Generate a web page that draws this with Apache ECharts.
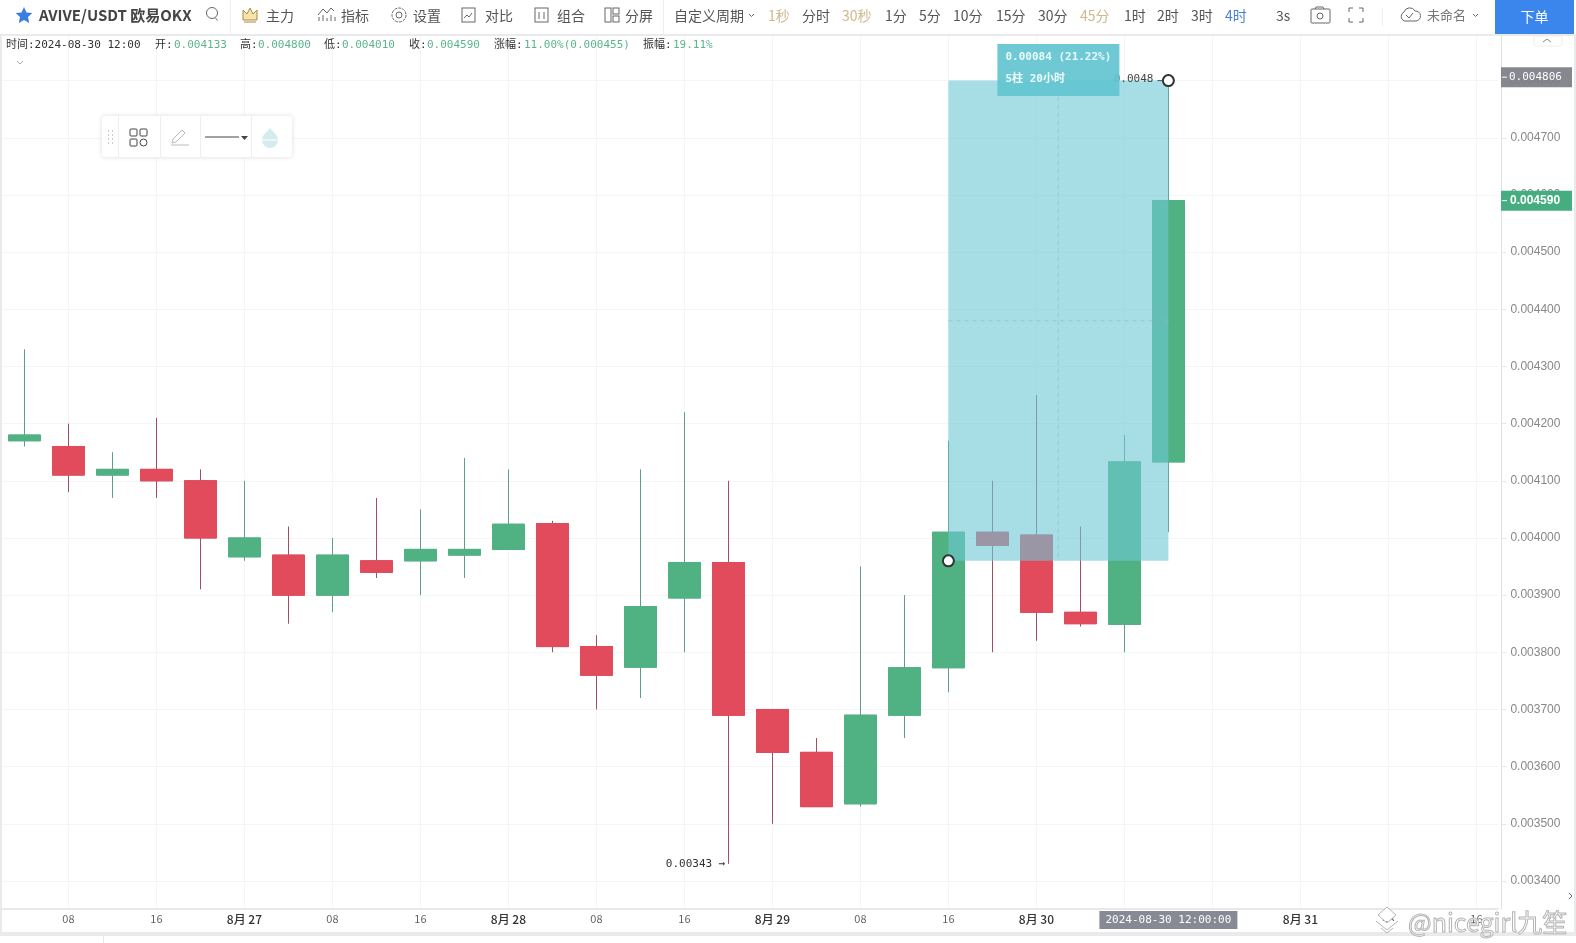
<!DOCTYPE html>
<html>
<head>
<meta charset="utf-8">
<title>AVIVE/USDT</title>
<script src="https://cdn.jsdelivr.net/npm/echarts@6/dist/echarts.min.js"></script>
<style>
  html, body { margin: 0; padding: 0; background: #fff; overflow: hidden; }
  #wrap { position: relative; width: 1576px; height: 943px; overflow: hidden; }
  #chart { position: absolute; left: 0; top: 0; width: 1576px; height: 943px; }
  .abs { position: absolute; white-space: nowrap; }
  .tb { top: 0; height: 34px; line-height: 30px; font: 14px/30px "Noto Sans CJK SC", sans-serif; color: #555; }
  .info { top: 38px; font: 11px/14px "DejaVu Sans Mono", "Noto Sans CJK SC", monospace; color: #333; }
  .bar { background: #e9eaeb; }
  svg { position: absolute; overflow: visible; }
</style>
</head>
<body>
<div id="wrap">
  <div id="chart"></div>
  <div id="overlay"></div>
</div>
<script>
// 4h candles, 08-26 04:00 to 08-30 12:00
var opens  = [0.00417, 0.00416, 0.00411, 0.00412, 0.00410, 0.003967, 0.00397, 0.00390, 0.00396, 0.00396, 0.00397, 0.00398, 0.004025, 0.00381, 0.003774, 0.003895, 0.003957, 0.00370, 0.003625, 0.003535, 0.00369, 0.003773, 0.00401, 0.004005, 0.00387, 0.003849, 0.004133];
var closes = [0.00418, 0.00411, 0.00412, 0.00410, 0.00400, 0.00400, 0.00390, 0.00397, 0.00394, 0.00398, 0.00398, 0.004024, 0.00381, 0.00376, 0.00388, 0.003957, 0.00369, 0.003625, 0.00353, 0.00369, 0.003773, 0.00401, 0.003987, 0.00387, 0.00385, 0.004133, 0.00459];
var lows   = [0.00416, 0.00408, 0.00407, 0.00407, 0.00391, 0.00396, 0.00385, 0.00387, 0.00393, 0.00390, 0.00393, 0.00398, 0.00380, 0.00370, 0.00372, 0.00380, 0.00343, 0.00350, 0.00353, 0.00353, 0.00365, 0.00373, 0.00380, 0.00382, 0.003845, 0.00380, 0.00401];
var highs  = [0.00433, 0.00420, 0.00415, 0.00421, 0.00412, 0.00410, 0.00402, 0.00400, 0.00407, 0.00405, 0.00414, 0.00412, 0.00403, 0.00383, 0.00412, 0.00422, 0.00410, 0.00370, 0.00365, 0.00395, 0.00390, 0.00417, 0.00410, 0.00425, 0.00402, 0.00418, 0.00480];

var tickLabels = ['', '08', '', '16', '', '8月 27', '', '08', '', '16', '', '8月 28', '', '08', '', '16', '', '8月 29', '', '08', '', '16', '', '8月 30', '', '16', '', '', '', '8月 31', '', '08', '', '16'];
var priceTicks = [0.0034, 0.0035, 0.0036, 0.0037, 0.0038, 0.0039, 0.0040, 0.0041, 0.0042, 0.0043, 0.0044, 0.0045, 0.0046, 0.0047, 0.0048];

var lastClose = 0.00459;
var crossPrice = 0.004806;
var crossTime = '2024-08-30 12:00:00';
var lowIndex = 16, lowPrice = 0.00343, lowText = '0.00343 →';
var highIndex = 26, highPrice = 0.0048, highText = '0.0048';
var measureFrom = [21, 0.00396];
var measureTo = [26, 0.0048];
var measureText = ['0.00084 (21.22%)', '5柱 20小时'];

var GREEN = '#50b283', RED = '#e24b5c';
var GREEN_WICK = '#5f9e8a', RED_WICK = '#a34f62';
var MONO = '"DejaVu Sans Mono","Noto Sans CJK SC",monospace';
var AXIS_X = 1501;

var candles = opens.map(function (o, i) { return [o, closes[i], lows[i], highs[i]]; });
// same open/close with the wicks collapsed, so the bodies keep their own colour over the wicks
var bodies = opens.map(function (o, i) {
    return [o, closes[i], Math.min(o, closes[i]), Math.max(o, closes[i])];
});

function renderNotes(params, api) {
    var a = api.coord([api.value(0), api.value(1)]);
    var b = api.coord([api.value(2), api.value(3)]);
    var midX = (a[0] + b[0]) / 2, midY = (a[1] + b[1]) / 2;
    var lo = api.coord([lowIndex, lowPrice]);
    var hi = api.coord([highIndex, highPrice]);
    var lastY = api.coord([0, lastClose])[1];
    var crossY = api.coord([0, crossPrice])[1];
    var dash = { stroke: 'rgba(130,185,195,.5)', lineWidth: 1, lineDash: [4, 4] };

    function txt(x, y, s, fill, align, font) {
        return { type: 'text', style: { x: x, y: y, text: s, fill: fill, align: align || 'left', verticalAlign: 'middle', font: font || '11px ' + MONO } };
    }
    function box(x, y, w, h, fill) {
        return { type: 'rect', shape: { x: x, y: y, width: w, height: h }, style: { fill: fill } };
    }
    function seg(x1, y1, x2, y2, st) {
        return { type: 'line', shape: { x1: x1, y1: y1, x2: x2, y2: y2 }, style: st };
    }
    function handle(p) {
        return { type: 'circle', shape: { cx: p[0], cy: p[1], r: 5.5 }, style: { fill: '#fff', stroke: '#2f3237', lineWidth: 2 } };
    }

    return { type: 'group', children: [
        box(a[0], b[1], b[0] - a[0], a[1] - b[1], 'rgba(109,200,214,.6)'),
        seg(midX, b[1], midX, a[1], dash),
        seg(a[0], midY, b[0], midY, dash),
        seg(b[0] - 5, midY - 3, b[0], midY, { stroke: 'rgba(130,185,195,.8)', lineWidth: 1 }),
        seg(b[0] - 5, midY + 3, b[0], midY, { stroke: 'rgba(130,185,195,.8)', lineWidth: 1 }),
        txt(lo[0] - 3, lo[1], lowText, '#333', 'right'),
        txt(hi[0] - 15, hi[1] - 1, highText, '#444', 'right'),
        seg(hi[0] - 11, hi[1], hi[0] - 5, hi[1], { stroke: '#555', lineWidth: 1 }),
        box(midX - 61, 44, 122, 52, 'rgba(98,196,209,.92)'),
        txt(midX - 53, 57, measureText[0], '#eafafa', 'left', 'bold 11px ' + MONO),
        txt(midX - 53, 79, measureText[1], '#f2fcfc', 'left', 'bold 11px ' + MONO),
        handle(a),
        handle(b),
        box(AXIS_X, crossY - 10, 71, 20, 'rgba(125,126,134,.93)'),
        seg(AXIS_X + 1, crossY, AXIS_X + 6, crossY, { stroke: '#fff', lineWidth: 1 }),
        txt(AXIS_X + 8, crossY, crossPrice.toFixed(6), '#fff'),
        box(AXIS_X, lastY - 10, 71, 20, '#46ad80'),
        seg(AXIS_X + 1, lastY, AXIS_X + 6, lastY, { stroke: '#fff', lineWidth: 1 }),
        txt(AXIS_X + 9, lastY, lastClose.toFixed(6), '#fff', 'left', 'bold 12px "Liberation Sans",sans-serif'),
        box(hi[0] - 69, 911, 138, 18, '#878a94'),
        txt(hi[0], 920, crossTime, '#fff', 'center')
    ] };
}

var chart = echarts.init(document.getElementById('chart'), null, { renderer: 'canvas' });
chart.setOption({
    animation: false,
    backgroundColor: '#fff',
    grid: { left: 2.4, top: 36, width: 1496, height: 873, containLabel: false },
    xAxis: {
        type: 'category',
        data: tickLabels,
        axisLine: { lineStyle: { color: '#dfe1e3', width: 1.5 } },
        axisTick: { show: false },
        splitLine: { show: true, alignWithLabel: true, interval: function (i) { return i % 2 === 1; }, lineStyle: { color: '#f3f5f6', width: 1 } },
        axisLabel: {
            interval: 0, margin: 4,
            formatter: function (v) { return v.indexOf('月') > 0 ? '{day|' + v + '}' : '{hour|' + v + '}'; },
            rich: {
                day: { fontFamily: '"Noto Sans CJK SC"', fontSize: 12, fontWeight: 500, color: '#333' },
                hour: { fontFamily: '"Noto Sans CJK SC"', fontSize: 11, color: '#666' }
            }
        }
    },
    yAxis: {
        type: 'value',
        position: 'right',
        offset: 3,
        min: 0.003351,
        max: 0.004878,
        axisLine: { show: true, lineStyle: { color: '#dfe1e3', width: 1 } },
        axisTick: { show: true, length: 5, customValues: priceTicks, lineStyle: { color: '#e4e6e8' } },
        splitLine: { show: true, lineStyle: { color: '#f3f5f6', width: 1 } },
        axisLabel: {
            customValues: priceTicks, margin: 9,
            fontFamily: '"Liberation Sans"', fontSize: 12, color: '#878787',
            formatter: function (v) { return v.toFixed(6); }
        }
    },
    series: [{
        type: 'candlestick',
        data: candles,
        barWidth: 32,
        itemStyle: { color: GREEN, color0: RED, borderColor: GREEN_WICK, borderColor0: RED_WICK, borderWidth: 1 },
        markLine: {
            silent: true, symbol: 'none', label: { show: false }, animation: false,
            lineStyle: { color: '#4c9f85', type: [4, 6], width: 1 },
            data: [{ yAxis: lastClose }]
        }
    }, {
        type: 'candlestick',
        data: bodies,
        barWidth: 32,
        z: 3,
        itemStyle: { color: GREEN, color0: RED, borderColor: GREEN, borderColor0: RED, borderWidth: 1 }
    }, {
        type: 'custom',
        z: 10,
        silent: true,
        clip: false,
        renderItem: renderNotes,
        encode: { x: [0, 2], y: [1, 3] },
        data: [[measureFrom[0], measureFrom[1], measureTo[0], measureTo[1]]]
    }]
});

// page furniture around the chart
var toolbarItems = [
    ['主力', 266], ['指标', 341], ['设置', 413], ['对比', 485], ['组合', 557], ['分屏', 625],
    ['自定义周期', 674], ['1秒', 768, '#cdb98c'], ['分时', 802], ['30秒', 842, '#cdb98c'],
    ['1分', 885], ['5分', 919], ['10分', 953], ['15分', 996], ['30分', 1038], ['45分', 1080, '#cdb98c'],
    ['1时', 1124], ['2时', 1157], ['3时', 1191], ['4时', 1225, '#4a80cf'], ['3s', 1276]
];
var infoRow = [
    ['时间:2024-08-30 12:00', 6], ['开:', 155], ['0.004133', 174, 1], ['高:', 240], ['0.004800', 258, 1],
    ['低:', 324], ['0.004010', 342, 1], ['收:', 409], ['0.004590', 427, 1], ['涨幅:', 494],
    ['11.00%(0.000455)', 524, 1], ['振幅:', 643], ['19.11%', 673, 1]
];
var html = '';
html += '<div class="abs bar" style="left:0;top:34px;width:1576px;height:2px"></div>';
html += '<div class="abs bar" style="left:0;top:36px;width:2px;height:896px"></div>';
html += '<div class="abs bar" style="left:1574px;top:36px;width:2px;height:896px"></div>';
html += '<div class="abs bar" style="left:0;top:932px;width:1576px;height:4px"></div>';
html += '<div class="abs bar" style="left:103px;top:936px;width:1px;height:7px"></div>';
html += '<div class="abs" style="left:230px;top:0;width:1px;height:34px;background:#eee"></div>';
html += '<div class="abs" style="left:663px;top:0;width:1px;height:34px;background:#eee"></div>';
html += '<div class="abs" style="left:1382px;top:8px;width:1px;height:18px;background:#eee"></div>';
html += '<div class="abs tb" style="left:39px;font-size:15px;font-weight:700;color:#444">AVIVE/USDT 欧易OKX</div>';
toolbarItems.forEach(function (t) {
    html += '<div class="abs tb" style="left:' + t[1] + 'px;' + (t[2] ? 'color:' + t[2] : '') + '">' + t[0] + '</div>';
});
html += '<div class="abs tb" style="left:1427px;font-size:13px;color:#777">未命名</div>';
html += '<div class="abs" style="left:1495px;top:0;width:79px;height:34px;background:#3a86ec;color:#fff;text-align:center;font:14px/32px \'Noto Sans CJK SC\'">下单</div>';
infoRow.forEach(function (t) {
    html += '<div class="abs info" style="left:' + t[1] + 'px;' + (t[2] ? 'color:#5bb58c' : '') + '">' + t[0] + '</div>';
});
// floating drawing tool
html += '<div class="abs" style="left:102px;top:116px;width:190px;height:41px;background:#fff;border-radius:3px;box-shadow:0 0 5px rgba(0,0,0,.14)"></div>';
[118, 160, 200, 251].forEach(function (x) {
    html += '<div class="abs" style="left:' + x + 'px;top:116px;width:1px;height:41px;background:#eee"></div>';
});
html += '<div class="abs" style="left:1408px;top:906px;font:25px/30px \'Noto Sans CJK SC\';color:#fff;-webkit-text-stroke:1px #b4b4b4">@nicegirl九笙</div>';
html += '<svg width="1576" height="943" style="left:0;top:0" fill="none" stroke="#666" stroke-width="1">'
    + '<path d="M24 7l2.5 5.4 5.8.7-4.3 4 1.2 5.9-5.2-3-5.2 3 1.2-5.9-4.3-4 5.8-.7z" fill="#3a7fe0" stroke="none"/>'
    + '<circle cx="212" cy="13" r="5.5"/><path d="M215.500 18l2 2.500"/>'
    + '<path d="M243 10l4 4 3-6 3 6 4-4v10h-14z" fill="#f6e3b0" stroke="#a98b3c"/><path d="M244 22h12" stroke="#a98b3c"/>'
    + '<path d="M319 21v-4M323 21v-6M327 21v-3M331 21v-6M335 21v-4M318 15l5-6 4 4 4-5 3 3"/>'
    + '<circle cx="399" cy="15" r="3"/><circle cx="399" cy="15" r="7" stroke-dasharray="3 1"/>'
    + '<rect x="462" y="8" width="13" height="14"/><path d="M464 18l3-3 2 2 3-4"/>'
    + '<rect x="535" y="8" width="13" height="14"/><path d="M539 12v7M544 12v7"/>'
    + '<rect x="605" y="8" width="6" height="14"/><rect x="613" y="8" width="6" height="6"/><rect x="613" y="16" width="6" height="6"/>'
    + '<path d="M749 14l2.5 2.5 2.5-2.5"/>'
    + '<rect x="1311" y="9" width="19" height="14" rx="1"/><circle cx="1320" cy="16" r="3"/><path d="M1315 9l1-2h7l1 2"/>'
    + '<path d="M1349 12v-4h4M1363 12v-4h-4M1349 18v4h4M1363 18v4h-4"/>'
    + '<path d="M1404 21a5 5 0 0 1 0-9 6 6 0 0 1 11-1 5 5 0 0 1 1 10z"/><path d="M1406 15l3 3 4-5"/>'
    + '<path d="M1473 14l2.5 2.5 2.5-2.5"/>'
    + '<path d="M17 61l3 3 3-3" stroke="#aaa"/>'
    + '<path d="M1543 42l4-3 4 3" stroke="#888"/><rect x="1534" y="36" width="28" height="10" rx="2" stroke="#eee"/>'
    + '<path d="M1569 893l3 3-3 3" stroke="#666"/>'
    + '<path d="M108 131h1M112 131h1M108 135h1M112 135h1M108 139h1M112 139h1M108 143h1M112 143h1" stroke="#ccc" stroke-width="2"/>'
    + '<rect x="130" y="129" width="7" height="7" rx="1" stroke="#444"/><rect x="140" y="129" width="7" height="7" rx="1" stroke="#444"/><rect x="130" y="139" width="7" height="7" rx="1" stroke="#444"/><circle cx="143.500" cy="142.500" r="3.500" stroke="#444"/>'
    + '<path d="M171 145h18M172 143l1-4 9-9 3 3-9 9z" stroke="#bbb"/>'
    + '<path d="M205 137h34" stroke="#444"/><path d="M241 136h7l-3.500 4z" fill="#444" stroke="none"/>'
    + '<path d="M270 128c3 4 8 7 8 12a8 8 0 0 1-16 0c0-5 5-8 8-12z" fill="#d5ecee" stroke="none"/><path d="M262 140h16" stroke="#fff"/>'
    + '<path d="M1387 907l9 8-9 8-9-8zM1376 921l11 9 11-9M1381 928l6 5 6-5" stroke="#b4b4b4" fill="#fff"/>'
    + '</svg>';
document.getElementById('overlay').innerHTML = html;
</script>
</body>
</html>
